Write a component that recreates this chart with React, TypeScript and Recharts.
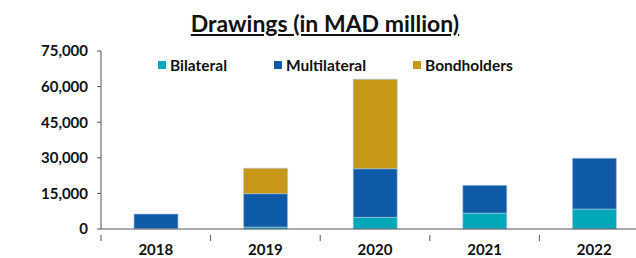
import { Bar, BarChart, XAxis, YAxis } from "recharts";

const years = ["2018", "2019", "2020", "2021", "2022"];
const bilateral = [200, 800, 4900, 6700, 8400];
const multilateral = [6100, 14100, 20500, 11700, 21400];
const bondholders = [0, 10700, 37700, 0, 0];
const yTicks = [0, 15000, 30000, 45000, 60000, 75000];

const series = [
  { key: "bilateral", name: "Bilateral", color: "#00A8B8" },
  { key: "multilateral", name: "Multilateral", color: "#0F5AA6" },
  { key: "bondholders", name: "Bondholders", color: "#C79718" },
];

const data = years.map((year, i) => ({
  year,
  bilateral: bilateral[i],
  multilateral: multilateral[i],
  bondholders: bondholders[i],
}));

const font = "Lato, 'Open Sans', sans-serif";

function YearTick(props: any) {
  const { x, y, payload } = props;
  const left = x - (payload.offset ?? 0);
  return (
    <g>
      <line x1={left} x2={left} y1={y - 12} y2={y - 6} stroke="#555" strokeWidth={1} />
      <text x={x} y={y + 8} textAnchor="middle" fill="#111" fontSize={15} fontWeight={700} fontFamily={font}>
        {payload.value}
      </text>
    </g>
  );
}

function LegendBox() {
  return (
    <div
      style={{
        position: "absolute",
        top: 56,
        left: 158,
        display: "flex",
        gap: 47,
        fontFamily: font,
        fontWeight: 700,
        fontSize: 15.5,
        lineHeight: "18px",
        color: "#111",
      }}
    >
      {series.map((s) => (
        <div key={s.key} style={{ display: "flex", alignItems: "center", gap: 4 }}>
          <span style={{ width: 8, height: 8, background: s.color, display: "inline-block" }} />
          {s.name}
        </div>
      ))}
    </div>
  );
}

export default function App() {
  return (
    <div style={{ position: "absolute", left: 0, top: 0, width: 636, height: 258, overflow: "hidden", background: "#fff" }}>
      <div
        style={{
          position: "absolute",
          top: 9,
          left: 0,
          width: 650,
          textAlign: "center",
          fontFamily: font,
          fontWeight: 700,
          fontSize: 23,
          textDecoration: "underline",
          color: "#111",
        }}
      >
        Drawings (in MAD million)
      </div>
      <BarChart width={649} height={258} data={data} margin={{ top: 51, right: 0, bottom: 0, left: 0 }} barSize={44}>
        <XAxis
          dataKey="year"
          tick={<YearTick />}
          tickLine={false}
          height={29}
          tickMargin={12}
          axisLine={{ stroke: "#555" }}
          interval={0}
        />
        <YAxis
          width={101}
          domain={[0, 75000]}
          ticks={yTicks}
          interval={0}
          tickSize={4}
          tickMargin={9}
          tickLine={{ stroke: "#555" }}
          axisLine={{ stroke: "#555" }}
          tickFormatter={(v: number) => v.toLocaleString("en-US")}
          tick={{ fill: "#111", fontSize: 15, fontWeight: 700, fontFamily: font }}
        />
        {series.map((s) => (
          <Bar
            key={s.key}
            dataKey={s.key}
            name={s.name}
            stackId="a"
            fill={s.color}
            stroke="#A9C8EA"
            strokeWidth={0.6}
            isAnimationActive={false}
          />
        ))}
      </BarChart>
      <LegendBox />
    </div>
  );
}
